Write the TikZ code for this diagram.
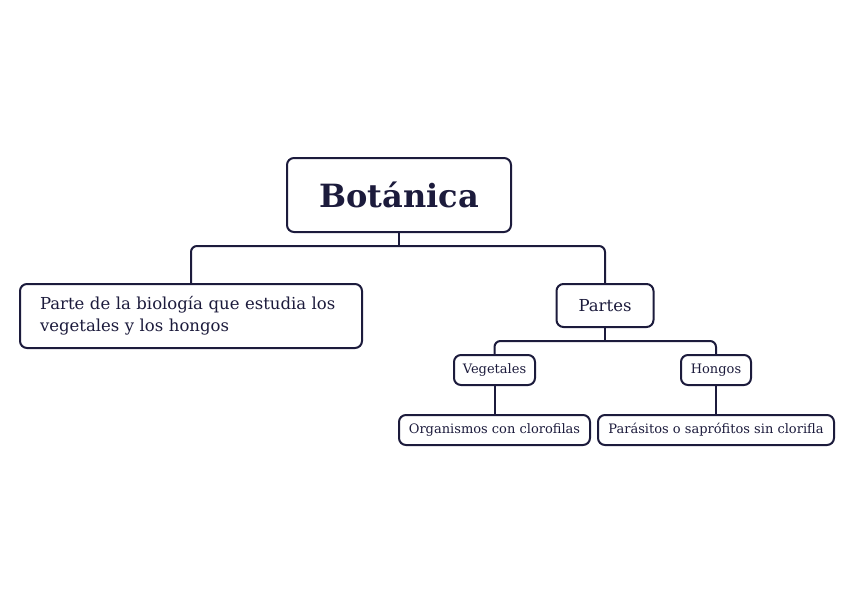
\documentclass[tikz,border=0pt]{standalone}
\usepackage{fontspec}
\setmainfont{DejaVu Serif}
\usetikzlibrary{positioning, calc}
\definecolor{inkblue}{HTML}{1C1B3C}
\tikzset{
  topic/.style={
    rectangle, rounded corners=7pt, draw=inkblue, line width=2pt,
    fill=white, text=inkblue, align=center, inner sep=0pt
  },
  link/.style={draw=inkblue, line width=2pt, rounded corners=6pt}
}

\begin{document}
\begin{tikzpicture}[x=1pt, y=-1pt]
  \useasboundingbox (0,0) rectangle (848,599);
  % root
  \node[topic, minimum width=224pt, minimum height=74pt,
        font=\fontsize{32}{36}\selectfont\bfseries] (bot) at (399,195)
    {Botánica};
  % first level
  \node[topic, minimum width=342pt, minimum height=64pt,
        text width=302pt, align=left,
        font=\fontsize{16.5}{22}\selectfont] (defn) at (191,316)
    {Parte de la biología que estudia los\\vegetales y los hongos};
  \node[topic, minimum width=97pt, minimum height=43pt,
        font=\fontsize{16.5}{18}\selectfont] (partes) at (605,305.5)
    {Partes};
  % second level
  \node[topic, minimum width=81pt, minimum height=30pt,
        font=\fontsize{13}{15}\selectfont] (veg) at (494.5,370)
    {Vegetales};
  \node[topic, minimum width=70pt, minimum height=30pt,
        font=\fontsize{13}{15}\selectfont] (hon) at (716,370)
    {Hongos};
  \node[topic, minimum width=191pt, minimum height=30pt,
        font=\fontsize{13}{15}\selectfont, below=28pt of veg] (org)
    {Organismos con clorofilas};
  \node[topic, minimum width=236pt, minimum height=30pt,
        font=\fontsize{13}{15}\selectfont, below=28pt of hon] (par)
    {Parásitos o saprófitos sin clorifla};
  % connectors
  \coordinate (j1) at ($(bot.south)+(0,13)$);
  \coordinate (j2) at ($(partes.south)+(0,13)$);
  \draw[link] (bot.south) -- (j1);
  \draw[link] (defn.north) |- (j1) -| (partes.north);
  \draw[link] (partes.south) -- (j2);
  \draw[link] (veg.north) |- (j2) -| (hon.north);
  \draw[link] (veg) -- (org);
  \draw[link] (hon) -- (par);
\end{tikzpicture}
\end{document}
